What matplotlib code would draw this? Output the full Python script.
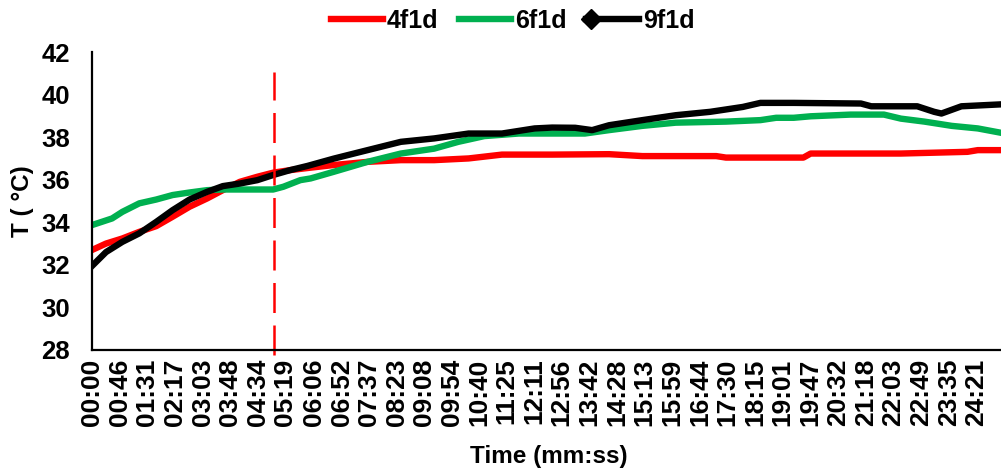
import matplotlib
matplotlib.use('Agg')
import matplotlib.pyplot as plt
from matplotlib.lines import Line2D
from matplotlib.legend_handler import HandlerLine2D

plt.rcParams['font.family'] = ['Liberation Sans', 'DejaVu Sans']
plt.rcParams['font.weight'] = 'bold'

# tick labels on the time axis (mm:ss)
tick_labels = ['00:00', '00:46', '01:31', '02:17', '03:03', '03:48', '04:34', '05:19',
               '06:06', '06:52', '07:37', '08:23', '09:08', '09:54', '10:40', '11:25',
               '12:11', '12:56', '13:42', '14:28', '15:13', '15:59', '16:44', '17:30',
               '18:15', '19:01', '19:47', '20:32', '21:18', '22:03', '22:49', '23:35',
               '24:21']

# series: time in seconds, temperature in degC
t_4f1d = [0, 23, 50, 78, 106, 133, 161, 190, 216, 244, 273, 299, 327, 356, 399, 455,
          510, 565, 622, 677, 760, 854, 909, 1031, 1047, 1175, 1187, 1336, 1446, 1463, 1508]
T_4f1d = [32.7, 33.0, 33.24, 33.55, 33.82, 34.26, 34.73, 35.12, 35.51, 35.9, 36.14, 36.33,
          36.45, 36.55, 36.69, 36.84, 36.92, 36.92, 37.0, 37.18, 37.18, 37.2, 37.11, 37.11,
          37.04, 37.04, 37.23, 37.23, 37.31, 37.39, 37.39]

t_6f1d = [0, 33, 50, 78, 106, 133, 161, 190, 216, 299, 316, 344, 361, 399, 455, 510, 565,
          605, 648, 705, 743, 814, 854, 909, 964, 1047, 1104, 1130, 1159, 1187, 1253, 1308,
          1336, 1375, 1420, 1463, 1508]
T_6f1d = [33.87, 34.18, 34.49, 34.89, 35.07, 35.28, 35.4, 35.51, 35.54, 35.54, 35.67, 35.98,
          36.06, 36.37, 36.84, 37.23, 37.46, 37.78, 38.05, 38.17, 38.17, 38.17, 38.33, 38.53,
          38.68, 38.73, 38.8, 38.91, 38.91, 38.98, 39.06, 39.06, 38.87, 38.73, 38.53, 38.41,
          38.17]

t_9f1d = [0, 23, 50, 78, 106, 133, 161, 190, 216, 244, 273, 299, 327, 356, 399, 455, 510,
          565, 622, 677, 731, 760, 798, 826, 854, 909, 964, 1021, 1075, 1104, 1159, 1270,
          1287, 1363, 1391, 1403, 1436, 1508]
T_9f1d = [31.95, 32.6, 33.08, 33.48, 34.02, 34.57, 35.07, 35.43, 35.7, 35.82, 35.98, 36.22,
          36.45, 36.65, 36.99, 37.39, 37.78, 37.94, 38.17, 38.17, 38.41, 38.45, 38.44, 38.33,
          38.56, 38.8, 39.03, 39.19, 39.42, 39.61, 39.61, 39.58, 39.45, 39.45, 39.19, 39.11,
          39.45, 39.55]

marker_time = 300  # red dashed line (5 min)

LW = 4.6


def to_seconds(label):
    m, s = label.split(':')
    return int(m) * 60 + int(s)


class LeftMarkerHandler(HandlerLine2D):
    """Legend entry with the diamond at the left end of the line (Excel style)."""
    def create_artists(self, legend, orig_handle, xdescent, ydescent, width, height,
                       fontsize, trans):
        y = height / 2 - ydescent
        line = Line2D([-xdescent, -xdescent + width], [y, y], color='black', linewidth=LW)
        mk = Line2D([-xdescent + 3], [y], color='black', marker='D', markersize=10,
                    linestyle='none')
        line.set_transform(trans)
        mk.set_transform(trans)
        return [line, mk]


fig = plt.figure(figsize=(10.01, 4.72), dpi=100)
ax = fig.add_axes([0.092, 0.2585, 0.912, 0.6313])

ax.plot(t_4f1d, T_4f1d, color='#FF0000', linewidth=LW)
ax.plot(t_6f1d, T_6f1d, color='#00B050', linewidth=LW)
ax.plot(t_9f1d, T_9f1d, color='black', linewidth=LW)

ax.axvline(marker_time, ymin=-0.017, ymax=0.933, color='#FF0000', linewidth=1.8,
           linestyle=(0, (12, 5)), clip_on=False)

ax.set_xlim(0, 1508)
ax.set_ylim(28, 42)
ax.set_yticks(range(28, 43, 2))
ax.set_xticks([to_seconds(l) for l in tick_labels])
ax.set_xticklabels(tick_labels, rotation=90, fontsize=19, fontweight='bold')
ax.tick_params(axis='y', labelsize=18.5, length=0, pad=16)
ax.tick_params(axis='x', length=0, pad=6)
for lab in ax.get_yticklabels():
    lab.set_fontweight('bold')

for side in ['top', 'right']:
    ax.spines[side].set_visible(False)
for side in ['left', 'bottom']:
    ax.spines[side].set_linewidth(1.6)

ax.set_xlabel('Time (mm:ss)', fontsize=17.5, fontweight='bold', labelpad=14)
ax.set_ylabel('T ( °C)', fontsize=17.5, fontweight='bold', labelpad=5)

handles = [
    Line2D([], [], color='#FF0000', linewidth=LW),
    Line2D([], [], color='#00B050', linewidth=LW),
    Line2D([], [], color='black', linewidth=LW, marker='D'),
]
fig.legend(handles, ['4f1d', '6f1d', '9f1d'], loc='center', bbox_to_anchor=(0.512, 0.955),
           ncol=3, frameon=False, handlelength=2.1, handletextpad=0.15,
           columnspacing=0.8, prop={'size': 18, 'weight': 'bold'},
           handler_map={handles[2]: LeftMarkerHandler()})

fig.savefig('out.png', dpi=100)
